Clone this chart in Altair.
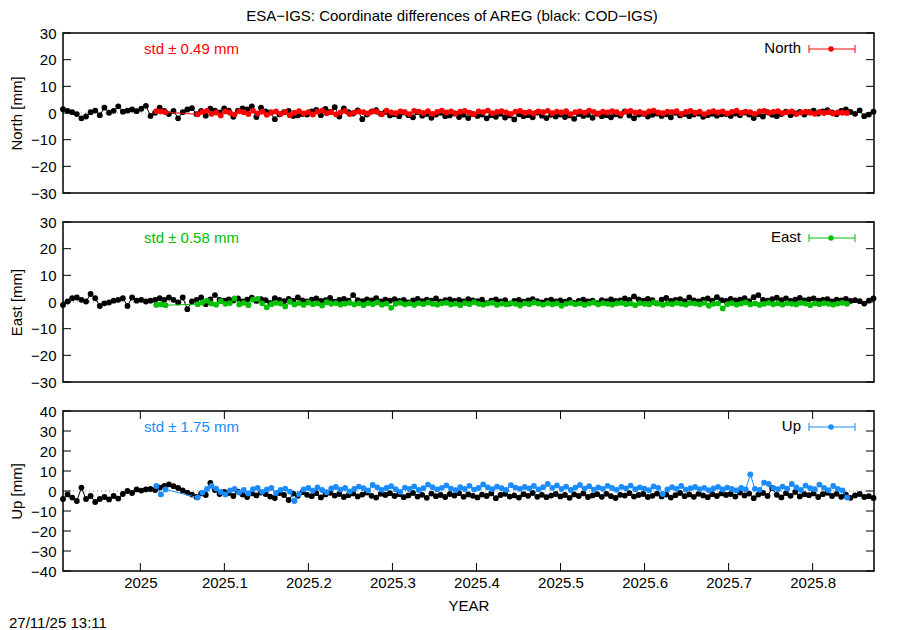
import altair as alt
import pandas as pd

FONT = "Liberation Sans"
TITLE = "ESA\u2212IGS: Coordinate differences of AREG (black: COD\u2212IGS)"
STAMP = "27/11/25 13:11"
X_DOMAIN = [2024.908, 2025.873]
X_TICKS = [2025.0, 2025.1, 2025.2, 2025.3, 2025.4, 2025.5, 2025.6, 2025.7, 2025.8]
REF_START = 2024.908   # first COD-IGS epoch (decimal year)
ESA_START = 2025.019   # first ESA-IGS epoch (decimal year)
STEP = 2 / 365         # every second day

# ---- North [mm] ----
north_ref = [
    1.4, 0.8, 0.3, -0.4, -2.0, -1.3, 0.3, 0.9, -0.8, 2.0, 0.1, 0.8, 2.5, 0.5, 0.9, 1.3, 0.7,
    1.6, 2.7, -1.1, 0.1, 2.0, 0.8, -0.4, 0.8, -2.0, 0.3, 1.3, 1.8, -0.4, 0.8, -1.0, 1.6, 0.9, 0.2, 1.7,
    0.9, -1.4, 0.9, 1.7, 1.3, 2.5, -1.5, 2.0, 0.6, 0.2, -2.3, -0.5, 0.3, 0.8, -1.1, -0.9, -0.4, -0.6,
    0.6, 1.2, -0.8, 1.5, 0.4, 2.2, -1.3, 1.7, 0.3, -0.2, 1.0, -2.3, -0.6, 0.5, 1.1, -0.3, 0.4, -0.9,
    -0.5, -1.2, 0.2, -0.8, -1.6, 0.3, -1.0, -0.4, -1.8, -0.6, 0.1, -1.2, -0.9, -0.2, -1.5, -0.7, -1.9, -0.4,
    -1.1, -0.6, -2.0, -0.8, -1.4, -0.3, -1.7, -0.9, -2.4, -0.5, -1.2, -0.8, -1.6, 0.2, -1.0, -1.9, -0.7, -1.3,
    -0.6, -1.5, -0.9, -2.2, -0.4, -1.1, -0.7, -1.8, -0.3, -1.2, -0.8, -1.6, -0.5, -1.0, 0.6, -0.9, -2.0, -0.6,
    -0.3, -1.3, -0.7, -0.2, -1.1, -0.5, -1.6, 0.1, -0.9, -0.4, -1.2, -0.6, -0.2, -1.4, -0.8, -0.3, -1.0, -0.5,
    -0.4, -1.1, -0.2, -0.8, 0.2, -0.6, -1.9, -0.5, -1.3, 0.3, -0.7, -1.2, -0.4, 0.5, -0.8, -0.2, 0.4, -0.6,
    0.3, 0.9, -0.2, 0.6, 1.1, 0.2, -0.5, 0.8, 1.3, 0.4, -0.3, 1.0, -1.2, -0.6, 0.5,
]
north_esa = [
    0.7, 0.6, 0.3, None, None, None, None, None, None,
    -0.5, 0.4, 0.8, -0.3, 0.2, -0.9, 0.6, 0.1, -0.6, 0.7, 0.3, -0.4, 0.9, -0.2, 0.5, -0.7, 0.2, 0.6,
    -0.3, 0.4, -0.8, 0.1, 0.7, -0.2, 0.3, -0.6, 0.5, 0.9, -0.1, 0.4, -0.5, 0.2, 0.8, -0.4, 0.1, 0.6,
    0.3, -0.2, 0.7, 0.4, -0.5, 0.9, 0.2, -0.1, 0.6, 0.3, -0.4, 0.8, 0.5, 0.0, 0.7, -0.3, 0.4, 0.9,
    0.2, 0.6, -0.2, 0.5, 0.8, 0.1, -0.4, 0.6, 0.3, 0.9, -0.1, 0.4, 0.7, 0.2, -0.3, 0.5, 0.8, 0.1,
    0.4, -0.2, 0.6, 0.3, 0.8, -0.1, 0.5, 0.2, 0.7, -0.4, 0.3, 0.6, 0.1, 0.9, 0.4, -0.2, 0.5, 0.2,
    0.7, 0.3, -0.3, 0.5, 0.8, 0.1, 0.4, -0.2, 0.6, 0.9, 0.2, -0.1, 0.5, 0.3, 0.7, -0.3, 0.4, 0.8,
    0.1, 0.5, -0.4, 0.3, 0.7, 0.2, 0.6, -0.2, 0.4, 0.9, 0.0, 0.5, 0.3, -0.3, 0.6, 0.8, 0.1, 0.4,
    0.7, -0.1, 0.3, 0.6, -0.4, 0.2, 0.5, 0.1, -0.3, 0.4, 0.0, 0.3, -0.2, 0.2, 0.1, 0.0,
]

# ---- East [mm] ----
east_ref = [
    -1.1, 0.2, 1.4, 1.7, 0.8, 0.2, 3.0, 1.4, -1.5, -0.5, -0.2, 0.5, 0.8, 1.4, -1.5, 1.7, 0.5,
    0.8, 0.2, 0.5, 0.8, 1.4, 0.8, 1.7, 0.8, -0.2, 1.7, -2.7, 0.2, 0.8, 1.7, -0.8, 1.0, 2.6, 0.8, 0.5,
    1.0, 0.6, 1.3, 0.2, 0.9, 1.6, 0.4, 1.1, 0.7, -0.3, 1.4, 0.8, 0.3, 1.2, 0.5, 1.7, 0.6, 0.2,
    0.9, 1.3, 0.4, 0.7, 1.5, 0.1, 0.8, 1.2, 0.5, 2.6, 0.7, 0.3, 1.0, 0.6, 1.4, 0.2, 0.9, 0.5,
    1.1, 0.4, 0.8, -0.2, 0.6, 1.2, 0.3, 0.9, 0.5, 1.3, 0.1, 0.7, 1.0, 0.4, 0.8, 0.2, 1.1, 0.6,
    0.3, 0.9, -0.4, 0.5, 1.0, 0.2, 0.7, -0.6, 0.4, 0.8, 0.1, 0.6, 1.1, 0.3, -0.2, 0.5, 0.9, 0.2,
    0.6, 0.1, 0.8, -0.3, 0.4, 0.9, 0.2, 0.5, -0.4, 0.7, 0.3, 1.0, 0.4, 0.6, 1.3, 0.8, 2.1, 1.0,
    0.5, 1.2, 0.7, -0.5, 0.9, 1.5, 0.4, 0.8, 1.1, 0.3, 1.7, 0.6, 0.2, 0.9, 1.3, 0.5, 1.8, 0.7,
    0.4, 1.2, 0.6, 0.9, 1.4, 0.3, 1.8, 2.6, 0.8, 0.5, 1.1, 1.6, 0.7, 1.3, 0.4, 0.9, 1.5, 0.6,
    1.0, 1.3, 0.5, 0.8, 1.1, 0.2, 0.9, 0.6, 1.2, 0.4, 0.7, 0.3, -0.6, 0.5, 1.3,
]
east_esa = [
    -1.1, -0.9, -1.2, None, None, None, None, None, None,
    -0.8, -0.2, 0.5, -0.6, -1.0, 0.3, -0.7, -0.4, 1.3, -0.9, -0.3, -1.2, 0.9, 1.2, -0.5, -2.0, -0.8, -0.3,
    -0.6, -1.7, 0.1, -0.9, -0.4, -1.1, -0.2, -0.8, -0.5, -1.3, -0.1, -0.7, -0.4, -1.0, -0.6, -0.3, -0.9, -0.5,
    -1.2, -0.4, -0.8, -0.2, -1.0, -0.6, -2.2, -0.7, -0.3, -0.9, -0.5, -1.1, -0.4, -0.8, -0.2, -0.7, -1.0, -0.5,
    -0.3, -0.9, -0.6, -1.2, -0.4, -0.8, -0.1, -0.7, -1.0, -0.5, -0.3, -1.1, -0.6, -0.9, -0.4, -0.7, -1.3, -0.5,
    -0.8, -0.2, -0.6, -1.0, -0.4, -0.9, -0.5, -1.4, -0.7, -0.3, -0.8, -0.5, -1.1, -0.6, -0.2, -0.9, -0.4, -0.7,
    -1.0, -0.5, -0.3, -0.8, -0.6, -1.2, -0.4, -0.7, -0.9, -0.2, -0.6, -1.1, -0.5, -0.8, -0.3, -0.7, -1.0, -0.4,
    -0.6, -0.9, -0.3, -1.4, -0.7, -0.5, -2.4, -0.8, -0.4, -1.0, -0.6, -0.2, -0.9, -0.5, -1.1, -0.7, -0.3, -0.8,
    -0.5, -1.0, -0.4, -0.7, -0.9, -0.3, -0.6, -1.2, -0.5, -0.8, -0.4, -0.7, -1.0, -0.6, -0.3, -0.7,
]

# ---- Up [mm] ----
up_ref = [
    -4.0, -1.7, -3.3, -5.0, 1.7, -4.0, -2.5, -5.5, -4.0, -3.0, -4.2, -2.5, -3.8, -1.5, 0.0, -1.0, 0.8,
    0.2, 0.8, 1.0, 0.5, 1.7, 2.5, 3.3, 2.4, 1.5, 0.3, -0.8, -1.8, -3.0, -1.2, -2.0, 4.0, 0.5, -1.5, -0.5,
    -1.0, -2.5, -0.3, -1.8, -3.0, -1.2, -2.2, -0.8, -1.5, -2.8, -3.5, -1.0, -2.0, -4.5, -1.3, -2.4, -0.6, -1.9,
    -2.6, -1.1, -3.2, -1.7, -0.9, -2.3, -1.5, -3.0, -2.1, -1.2, -2.7, -1.8, -0.8, -2.4, -3.3, -1.4, -2.0, -1.1,
    -2.5, -1.6, -3.1, -2.2, -1.0, -2.8, -1.9, -3.4, -1.3, -2.6, -2.0, -3.0, -1.5, -2.3, -1.1, -2.9, -1.7, -2.4,
    -3.2, -1.8, -2.5, -1.2, -3.6, -2.0, -1.4, -2.8, -2.2, -3.3, -1.6, -2.4, -1.0, -2.9, -1.9, -3.1, -2.3, -1.5,
    -2.7, -2.0, -3.4, -1.7, -2.5, -1.2, -3.0, -2.2, -1.6, -2.9, -1.4, -2.6, -3.5, -1.9, -2.3, -1.1, -2.8, -2.0,
    -1.5, -3.0, -2.4, -1.3, -2.7, -1.8, -3.3, -2.1, -1.0, -2.6, -1.7, -2.9, -1.4, -2.2, -3.1, -1.6, -2.5, -1.2,
    -2.0, -1.5, -2.8, -0.8, -2.2, -1.3, -3.6, -1.8, -1.0, -2.5, 1.5, -1.9, -3.2, -1.1, -2.4, -0.5, -2.7, -1.6,
    -2.1, -1.2, -3.0, -1.6, -0.9, -2.5, -1.4, -2.9, -1.8, -3.4, -2.2, -1.5, -3.0, -2.6, -3.5,
]
up_esa = [
    2.5, -1.7, 0.8, None, None, None, None, None, None,
    -3.3, -0.8, 1.0, 2.5, 1.2, -0.5, -1.7, 0.3, 1.0, -0.8, 0.5, -1.2, 0.9, 1.6, -0.4, 0.8, 1.5, -1.0,
    0.6, 1.2, -0.3, -5.0, -1.5, 0.8, 1.5, 0.2, 1.8, 0.5, -0.6, 1.3, 2.0, 0.7, 1.5, -0.2, 1.0, 2.2,
    1.4, 0.3, 3.0, 1.8, 0.6, 1.5, 2.4, 0.9, -0.4, 1.7, 1.0, 2.3, 0.5, 1.4, 3.2, 1.9, 0.8, 1.6,
    2.8, 1.2, 0.4, 1.9, 1.0, 2.6, 0.7, 1.5, 3.3, 1.8, 0.9, 2.2, 1.4, 0.6, 2.9, 1.7, 1.1, 2.0,
    1.3, 2.5, 0.8, 1.9, 3.5, 1.6, 2.8, 1.0, 2.2, 0.5, 1.7, 3.0, 1.2, 2.4, 0.7, 1.8, 1.1, 2.6,
    1.5, 0.6, 2.1, 1.3, 2.7, 0.9, 1.8, 1.2, 0.4, 2.3, 1.6, -1.5, 0.8, 1.9, 1.1, 2.5, 0.7, 1.4,
    2.0, 0.9, 1.6, 0.4, 1.3, 2.1, 0.8, 1.7, 1.0, 0.3, 1.5, 0.8, 8.3, 1.1, 0.6, 4.2, 3.5, 1.6,
    0.9, 2.2, 1.2, 3.5, 1.8, 0.5, 2.7, 1.4, 0.9, 3.2, 1.6, 0.4, 2.5, 1.1, 0.3, -3.3,
]

COMPONENTS = ["North", "East", "Up"]
STD_MM = [0.49, 0.58, 1.75]
COLORS = ["#ff0000", "#00c000", "#1a8cff"]
Y_LIMITS = [30, 30, 40]

W, H = 811, 160


def series_frame(start, values):
    df = pd.DataFrame({"t": [start + STEP * i for i in range(len(values))], "v": values})
    return df.dropna()


def panel(name, ref, esa, color, std, lim, bottom):
    xs = alt.Scale(domain=X_DOMAIN, nice=False, zero=False)
    ys = alt.Scale(domain=[-lim, lim], nice=False, zero=False)
    y_ticks = list(range(-lim, lim + 1, 10))
    if bottom:
        xaxis = alt.Axis(values=X_TICKS, title="YEAR", grid=False, domain=False, ticks=False,
                         labelPadding=4, titlePadding=8,
                         labelFont=FONT, labelFontSize=15, labelColor="black",
                         titleFont=FONT, titleFontSize=15, titleColor="black",
                         titleFontWeight="normal",
                         labelExpr="datum.value == 2025 ? '2025' : format(datum.value, '.1f')")
    else:
        xaxis = None
    X = alt.X("t:Q", scale=xs, axis=xaxis)
    Y = alt.Y("v:Q", scale=ys, axis=alt.Axis(values=y_ticks, title=f"{name} [mm]", grid=False,
                                              domain=False, ticks=False, labelPadding=7,
                                              titlePadding=6,
                                              labelFont=FONT, labelFontSize=15, labelColor="black",
                                              titleFont=FONT, titleFontSize=15, titleColor="black",
                                              titleFontWeight="normal"))

    ref_df = series_frame(REF_START, ref)
    esa_df = series_frame(ESA_START, esa)
    ytick_df = pd.DataFrame({"v": y_ticks})
    one = pd.DataFrame({"v": [0]})

    layers = []
    layers.append(alt.Chart(one).mark_rule(color="#888888", strokeDash=[1, 3], strokeWidth=1)
                  .encode(y=Y))
    layers.append(alt.Chart(ytick_df).mark_rule(color="black", strokeWidth=1)
                  .encode(y=Y, x=alt.value(0), x2=alt.value(8)))
    layers.append(alt.Chart(ytick_df).mark_rule(color="black", strokeWidth=1)
                  .encode(y=Y, x=alt.value(W - 8), x2=alt.value(W)))
    if bottom:
        xtick_df = pd.DataFrame({"t": X_TICKS})
        layers.append(alt.Chart(xtick_df).mark_rule(color="black", strokeWidth=1)
                      .encode(x=X, y=alt.value(0), y2=alt.value(8)))
        layers.append(alt.Chart(xtick_df).mark_rule(color="black", strokeWidth=1)
                      .encode(x=X, y=alt.value(H - 8), y2=alt.value(H)))

    base_ref = alt.Chart(ref_df).encode(x=X, y=Y)
    layers.append(base_ref.mark_line(color="black", strokeWidth=1, clip=False))
    layers.append(base_ref.mark_circle(color="black", size=34, opacity=1, clip=False))
    base_esa = alt.Chart(esa_df).encode(x=X, y=Y)
    layers.append(base_esa.mark_line(color=color, strokeWidth=1, clip=False))
    layers.append(base_esa.mark_circle(color=color, size=34, opacity=1, clip=False))

    # std annotation
    layers.append(alt.Chart(one).mark_text(text=f"std \u00b1 {std:.2f} mm", color=color, font=FONT,
                                           fontSize=15, align="left", baseline="middle")
                  .encode(x=alt.value(81), y=alt.value(16)))
    # key
    layers.append(alt.Chart(one).mark_text(text=name, color="black", font=FONT, fontSize=15,
                                           align="right", baseline="middle")
                  .encode(x=alt.value(738), y=alt.value(15)))
    layers.append(alt.Chart(one).mark_rule(color=color, strokeWidth=1)
                  .encode(x=alt.value(746), x2=alt.value(792), y=alt.value(16)))
    layers.append(alt.Chart(one).mark_rule(color=color, strokeWidth=1)
                  .encode(x=alt.value(746), y=alt.value(12), y2=alt.value(20)))
    layers.append(alt.Chart(one).mark_rule(color=color, strokeWidth=1)
                  .encode(x=alt.value(792), y=alt.value(12), y2=alt.value(20)))
    layers.append(alt.Chart(one).mark_circle(color=color, size=30, opacity=1)
                  .encode(x=alt.value(768), y=alt.value(16)))

    if name == "North":
        layers.append(alt.Chart(one).mark_text(text=TITLE, color="black", font=FONT, fontSize=15,
                                               align="center", baseline="middle")
                      .encode(x=alt.value(389), y=alt.value(-17)))
    if bottom:
        layers.append(alt.Chart(one).mark_text(text=STAMP, color="black", font=FONT, fontSize=15,
                                               align="left", baseline="middle")
                      .encode(x=alt.value(-54), y=alt.value(212)))

    return alt.layer(*layers).properties(width=W, height=H)


panels = [
    panel(COMPONENTS[0], north_ref, north_esa, COLORS[0], STD_MM[0], Y_LIMITS[0], False),
    panel(COMPONENTS[1], east_ref, east_esa, COLORS[1], STD_MM[1], Y_LIMITS[1], False),
    panel(COMPONENTS[2], up_ref, up_esa, COLORS[2], STD_MM[2], Y_LIMITS[2], True),
]

chart = (
    alt.vconcat(*panels, spacing=29, bounds="flush")
    .properties(padding={"left": 0, "top": 0, "right": 5, "bottom": 0},
                background="white")
    .configure_view(stroke="black", strokeWidth=1.5)
)

chart.save("out.html", embed_options={"renderer": "svg", "actions": False})
